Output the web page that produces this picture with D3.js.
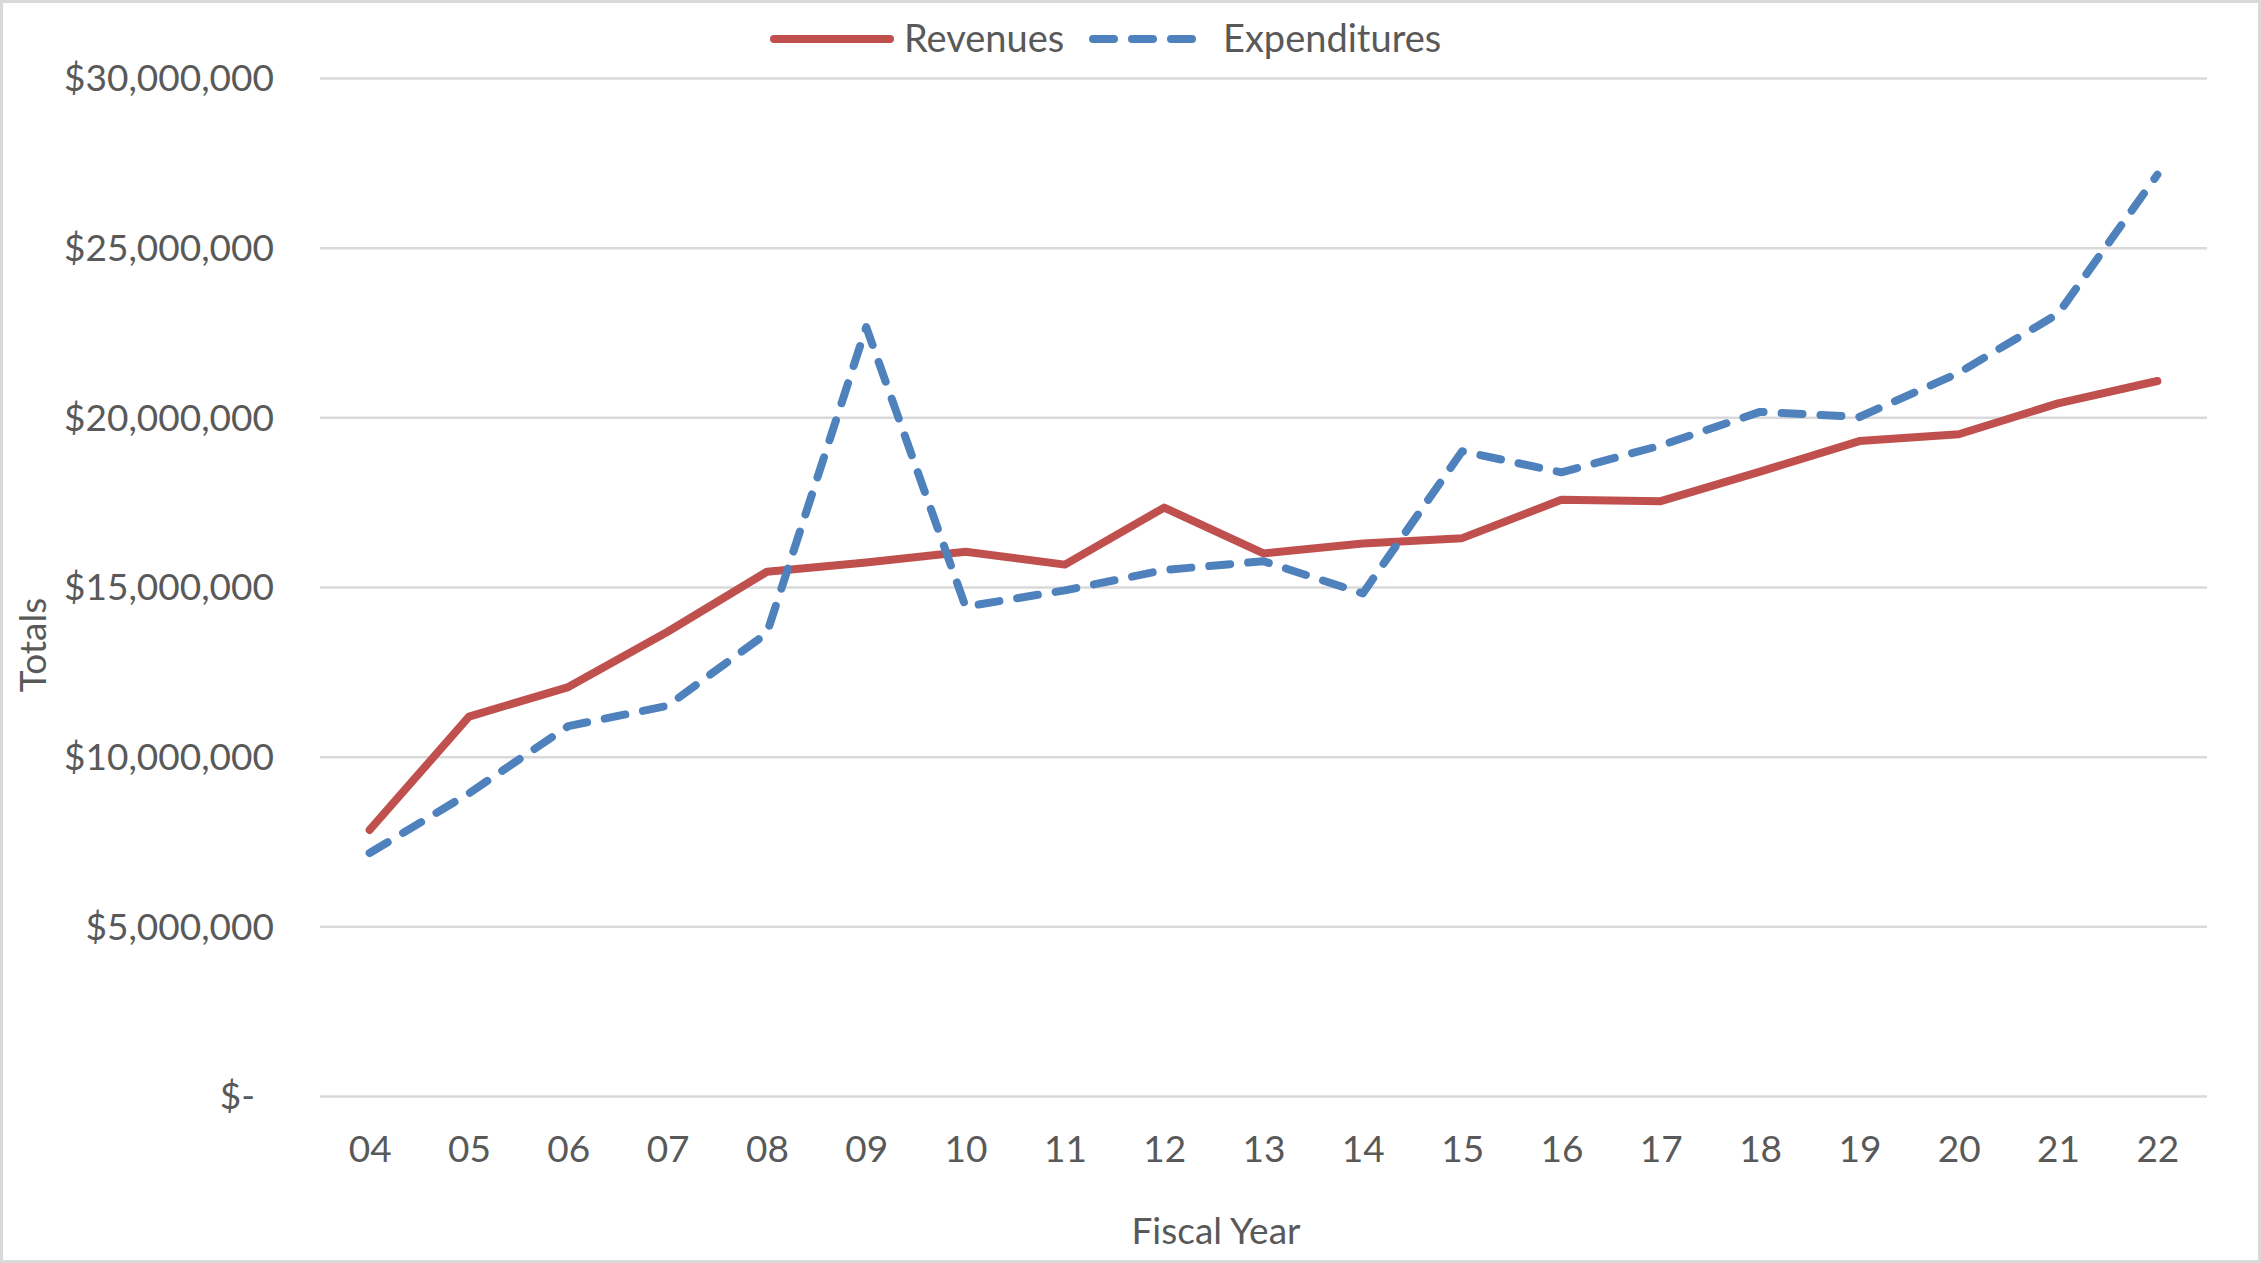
<!DOCTYPE html>
<html>
<head>
<meta charset="utf-8">
<script src="https://cdn.jsdelivr.net/npm/d3@7"></script>
<style>
    body { margin: 0; background: #fff; }
    svg text { font-family: Lato, "Open Sans", sans-serif; fill: #595959; }
</style>
</head>
<body>
<script>

// DATA

let years = ["04", "05", "06", "07", "08", "09", "10", "11", "12", "13", "14", "15", "16", "17", "18", "19", "20", "21", "22"];
let revenues = [7840000, 11180000, 12050000, 13680000, 15450000, 15720000, 16040000, 15660000, 17340000, 15990000, 16280000, 16440000, 17570000, 17530000, 18400000, 19300000, 19500000, 20410000, 21070000];
let expenditures = [7160000, 8920000, 10900000, 11500000, 13640000, 22660000, 14420000, 14900000, 15500000, 15760000, 14810000, 19000000, 18380000, 19170000, 20160000, 20010000, 21310000, 23050000, 27150000];
let yTicks = [0, 5000000, 10000000, 15000000, 20000000, 25000000, 30000000];

// CHART

let width = 2261;
let height = 1263;
let plotLeft = 320, plotRight = 2207, plotTop = 78, plotBottom = 1096;

let svg = d3.select('body').append('svg')
    .attr('width', width)
    .attr('height', height);

// chart border
svg.append("rect")
    .attr("x", 1.5).attr("y", 1.5)
    .attr("width", width - 3).attr("height", height - 3)
    .attr("fill", "#fff")
    .attr("stroke", "#d9d9d9")
    .attr("stroke-width", 3);

let x_scale = d3.scalePoint()
    .domain(years)
    .range([plotLeft, plotRight])
    .padding(0.5);

let y_scale = d3.scaleLinear()
    .domain([0, 30000000])
    .range([plotBottom, plotTop]);

// gridlines + y labels
let fmt = d3.format(",");
let y_axis = d3.axisLeft(y_scale)
    .tickValues(yTicks)
    .tickSize(-(plotRight - plotLeft))
    .tickPadding(46)
    .tickFormat(d => d === 0 ? "$-" : "$" + fmt(d));

let gy = svg.append("g")
    .attr("class", "y axis")
    .attr("transform", "translate(" + plotLeft + ",0)")
    .call(y_axis);
gy.select(".domain").remove();
gy.selectAll(".tick line").attr("stroke", "#d9d9d9").attr("stroke-width", 2.5);
gy.selectAll(".tick text")
    .style("font-size", "37px")
    .attr("dy", "0.35em")
    .attr("dx", d => d === 0 ? -19 : 0);

// x labels
let x_axis = d3.axisBottom(x_scale).tickSize(0).tickPadding(40);
let gx = svg.append("g")
    .attr("class", "x axis")
    .attr("transform", "translate(0," + plotBottom + ")")
    .call(x_axis);
gx.select(".domain").remove();
gx.selectAll(".tick text").style("font-size", "37px");

// axis titles
svg.append("text")
    .attr("x", 1216)
    .attr("y", 1244)
    .attr("text-anchor", "middle")
    .style("font-size", "37px")
    .text("Fiscal Year");

svg.append("text")
    .attr("transform", "translate(46,645) rotate(-90)")
    .attr("text-anchor", "middle")
    .style("font-size", "37px")
    .text("Totals");

// lines
let line = d3.line()
    .x((d, i) => x_scale(years[i]))
    .y(d => y_scale(d));

svg.append("path")
    .attr("d", line(revenues))
    .attr("fill", "none")
    .attr("stroke", "#c0504d")
    .attr("stroke-width", 8)
    .attr("stroke-linejoin", "round")
    .attr("stroke-linecap", "round");

svg.append("path")
    .attr("d", line(expenditures))
    .attr("fill", "none")
    .attr("stroke", "#4f81bd")
    .attr("stroke-width", 8)
    .attr("stroke-linejoin", "round")
    .attr("stroke-linecap", "round")
    .attr("stroke-dasharray", "21,18");

// legend
let legend = svg.append("g").attr("class", "legend");
legend.append("line")
    .attr("x1", 774).attr("x2", 890).attr("y1", 39).attr("y2", 39)
    .attr("stroke", "#c0504d").attr("stroke-width", 8).attr("stroke-linecap", "round");
legend.append("text")
    .attr("x", 904).attr("y", 39).attr("dy", "0.35em")
    .style("font-size", "38px")
    .text("Revenues");
legend.append("line")
    .attr("x1", 1093).attr("x2", 1194).attr("y1", 39).attr("y2", 39)
    .attr("stroke", "#4f81bd").attr("stroke-width", 8).attr("stroke-linecap", "round")
    .attr("stroke-dasharray", "21,18");
legend.append("text")
    .attr("x", 1223).attr("y", 39).attr("dy", "0.35em")
    .style("font-size", "38px")
    .text("Expenditures");

</script>
</body>
</html>
